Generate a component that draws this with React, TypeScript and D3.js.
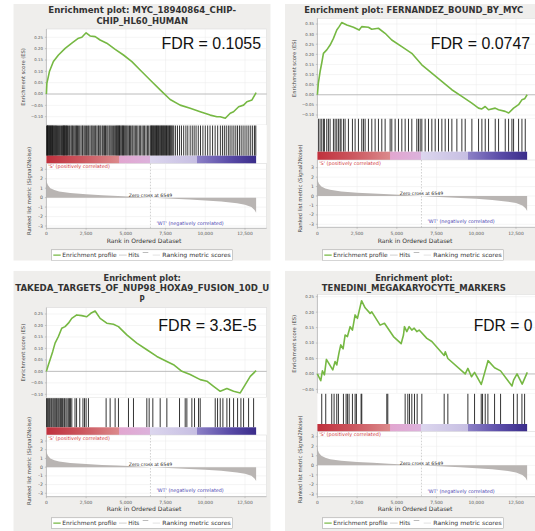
import React from 'react';
import * as d3 from 'd3';

// ---------------- shared data ----------------
const rankTicks = [0, 2500, 5000, 7500, 10000, 12500];
const rankTickLabels = ['0', '2,500', '5,000', '7,500', '10,000', '12,500'];
const datasetSize = 13200;
const zeroCross = 6549;
const metricTicks = [3, 2, 1, 0, -1, -2, -3];

const metricRanks = [0, 30, 100, 250, 500, 800, 1500, 2500, 3500, 4500, 5500, 6549, 7000, 8000, 9000, 10000, 11000, 12000, 12500, 12900, 13100, 13200];
const metricValues = [2.0, 1.6, 1.3, 1.0, 0.8, 0.65, 0.48, 0.35, 0.26, 0.18, 0.1, 0, -0.05, -0.12, -0.2, -0.3, -0.42, -0.6, -0.75, -1.0, -1.3, -1.6];

const colorBarRanks = [0, 2300, 4600, 4601, 6549, 6550, 9500, 9501, 11500, 13200];
const colorBarColors = ['#c0303c', '#cc5860', '#dc8a8c', '#e2a6d0', '#dcb2dc', '#dcd6ee', '#c6bee2', '#8c80c6', '#5a4ca8', '#3a2c8a'];

// ---------------- panel 1 ----------------
const p1Title = ['Enrichment plot: MYC_18940864_CHIP-', 'CHIP_HL60_HUMAN'];
const p1Fdr = 'FDR = 0.1055';
const p1EsTicks = [0.25, 0.2, 0.15, 0.1, 0.05, 0, -0.05, -0.1];
const p1EsRanks = [0, 30, 190, 440, 760, 1180, 1600, 2020, 2230, 2500, 2750, 3070, 3380, 3800, 4330, 4850, 5380, 5900, 6530, 7160, 7790, 8420, 9050, 9680, 10310, 10730, 10940, 11260, 11570, 11780, 12100, 12410, 12620, 12940, 13200];
const p1EsValues = [0, 0.047, 0.099, 0.143, 0.172, 0.201, 0.224, 0.246, 0.25, 0.27, 0.256, 0.253, 0.238, 0.224, 0.197, 0.172, 0.143, 0.106, 0.062, 0.018, -0.024, -0.049, -0.063, -0.078, -0.093, -0.1, -0.1, -0.107, -0.085, -0.078, -0.056, -0.049, -0.034, -0.026, 0.006];
const p1Hits = [20, 45, 60, 85, 110, 150, 180, 210, 260, 290, 330, 360, 390, 430, 470, 520, 560, 600, 640, 700, 760, 830, 880, 950, 1010, 1060, 1090, 1120, 1150, 1210, 1250, 1280, 1330, 1400, 1460, 1540, 1600, 1650, 1720, 1790, 1850, 1900, 1960, 2030, 2100, 2180, 2260, 2300, 2380, 2450, 2520, 2600, 2660, 2740, 2820, 2880, 2950, 3040, 3100, 3180, 3260, 3300, 3370, 3430, 3520, 3580, 3660, 3720, 3800, 3870, 3950, 4010, 4080, 4150, 4230, 4300, 4360, 4420, 4460, 4510, 4550, 4600, 4640, 4700, 4760, 4800, 4850, 4900, 4960, 5020, 5080, 5150, 5230, 5300, 5380, 5440, 5520, 5600, 5680, 5760, 5850, 5930, 6020, 6100, 6180, 6270, 6360, 6440, 6530, 6580, 6620, 6660, 6700, 6750, 6790, 6840, 6880, 6930, 6970, 7010, 7050, 7100, 7150, 7200, 7240, 7290, 7330, 7380, 7420, 7470, 7510, 7560, 7600, 7650, 7700, 7750, 7800, 7850, 7900, 7960, 8020, 8130, 8250, 8380, 8500, 8640, 8780, 8900, 9050, 9180, 9300, 9420, 9560, 9700, 9850, 10000, 10150, 10300, 10460, 10620, 10780, 10950, 11080, 11200, 11320, 11450, 11560, 11680, 11800, 11920, 12030, 12150, 12260, 12380, 12500, 12620, 12740, 12860, 12980, 13100, 13180];

// ---------------- panel 2 ----------------
const p2Title = ['Enrichment plot: FERNANDEZ_BOUND_BY_MYC'];
const p2Fdr = 'FDR = 0.0747';
const p2EsTicks = [0.35, 0.3, 0.25, 0.2, 0.15, 0.1, 0.05, 0, -0.05, -0.1];
const p2EsRanks = [0, 60, 170, 270, 380, 590, 800, 1010, 1220, 1370, 1530, 1850, 2270, 2630, 2790, 3210, 3420, 3840, 4260, 4680, 5310, 5940, 6570, 7200, 7830, 8460, 9090, 9720, 10140, 10350, 10560, 10770, 11190, 11400, 11820, 12040, 12350, 12660, 12870, 13040, 13200];
const p2EsValues = [0, 0.058, 0.115, 0.156, 0.205, 0.222, 0.246, 0.279, 0.32, 0.337, 0.357, 0.345, 0.334, 0.32, 0.337, 0.334, 0.324, 0.329, 0.304, 0.271, 0.238, 0.205, 0.148, 0.107, 0.066, 0.025, -0.008, -0.041, -0.066, -0.07, -0.058, -0.074, -0.066, -0.074, -0.082, -0.09, -0.066, -0.049, -0.025, -0.02, 0.0];
const p2Hits = [63, 168, 273, 378, 441, 588, 693, 798, 1008, 1113, 1218, 1323, 1428, 1491, 1638, 1743, 1953, 2205, 2373, 2583, 2793, 2898, 3003, 3213, 3423, 3633, 3843, 4053, 4263, 4578, 4683, 4893, 5103, 5313, 5523, 5733, 5943, 6258, 6363, 6468, 6573, 6783, 6993, 7203, 7413, 7623, 7833, 8043, 8253, 8463, 8778, 9093, 9303, 9723, 10143, 10353, 10563, 10773, 11193, 11403, 11823, 12033, 12243, 12348, 12663, 12873, 13083];

// ---------------- panel 3 ----------------
const p3Title = ['Enrichment plot:', 'TAKEDA_TARGETS_OF_NUP98_HOXA9_FUSION_10D_U', 'P'];
const p3Fdr = 'FDR = 3.3E-5';
const p3EsTicks = [0.25, 0.2, 0.15, 0.1, 0.05, 0, -0.05, -0.1];
const p3EsRanks = [0, 126, 231, 399, 546, 756, 966, 1176, 1386, 1596, 1911, 2226, 2541, 2793, 3066, 3381, 3801, 4221, 4536, 5061, 5691, 6321, 6951, 7581, 8001, 8526, 9051, 9681, 10101, 10521, 10941, 11361, 11781, 12201, 12516, 12831, 13200];
const p3EsValues = [0, 0.029, 0.051, 0.087, 0.123, 0.152, 0.188, 0.195, 0.21, 0.231, 0.246, 0.243, 0.238, 0.253, 0.263, 0.231, 0.21, 0.205, 0.195, 0.159, 0.123, 0.094, 0.065, 0.043, 0.029, 0, -0.014, -0.036, -0.043, -0.065, -0.087, -0.075, -0.087, -0.094, -0.058, -0.022, 0.003];
const p3Hits = [10, 60, 120, 180, 230, 300, 350, 420, 480, 540, 600, 650, 720, 780, 850, 900, 960, 1020, 1100, 1150, 1230, 1300, 1380, 1450, 1520, 1600, 1800, 1900, 2100, 2300, 2400, 2500, 2646, 3759, 4011, 4326, 4536, 5166, 5481, 6321, 6468, 6699, 7161, 7581, 8379, 8736, 8841, 9156, 9324, 9576, 9681, 10626, 10773, 10941, 11109, 11361, 11529, 11781, 12033, 12243, 12411, 12726, 13041];

// ---------------- panel 4 ----------------
const p4Title = ['Enrichment plot:', 'TENEDINI_MEGAKARYOCYTE_MARKERS'];
const p4Fdr = 'FDR = 0';
const p4EsTicks = [0.25, 0.2, 0.15, 0.1, 0.05, 0, -0.05];
const p4EsRanks = [0, 210, 315, 441, 567, 966, 1113, 1218, 1365, 1470, 1617, 1743, 1890, 2058, 2205, 2373, 2520, 2780, 3003, 3318, 3423, 3948, 4221, 4788, 5270, 5418, 5480, 5628, 5775, 5943, 6090, 6258, 6405, 6888, 7203, 7980, 8050, 8211, 9303, 9471, 9700, 9891, 10310, 10395, 10740, 11151, 11529, 12247, 12348, 12565, 12890, 13210];
const p4EsValues = [0, -0.022, 0.01, -0.003, 0.047, 0.013, 0.04, 0.029, 0.07, 0.094, 0.081, 0.126, 0.121, 0.153, 0.142, 0.191, 0.18, 0.237, 0.214, 0.196, 0.201, 0.158, 0.164, 0.121, 0.098, 0.126, 0.153, 0.137, 0.153, 0.142, 0.148, 0.137, 0.142, 0.115, 0.105, 0.06, 0.072, 0.05, 0.0, 0.018, -0.009, 0.005, -0.034, -0.02, 0.043, 0.02, 0.01, -0.039, -0.02, 0.0, -0.033, 0.005];
const p4Hits = [273, 525, 903, 1050, 1218, 1323, 1638, 1806, 1890, 1995, 2205, 2373, 2457, 2751, 2793, 4368, 4431, 5523, 5691, 5796, 5943, 6111, 6279, 6573, 7980, 8211, 9471, 9891, 10311, 10395, 10563, 10731, 11151, 11529, 12348, 12579, 12873, 13041];

// ---------------- layout (styles only) ----------------
type Layout = {
  bgX: number; bgY: number; bgW: number; bgH: number;
  titleX: number; titleY: number[]; titleW: number[];
  x0: number; xR: number;
  esTop: number; esBot: number; esA: [number, number]; esB: [number, number];
  barTop: number; barBot: number; rkBot: number; rkA: [number, number]; rkB: [number, number];
  xTickY: number; xLabelY: number; legY: number;
  fdrX: number; fdrW: number; fdrY: number;
};

const layouts: Layout[] = [
  { bgX: 13.3, bgY: 4, bgW: 257.4, bgH: 256.7, titleX: 142.2, titleY: [13.2, 24.2], titleW: [187.7, 91.6],
    x0: 46.4, xR: 266.7, esTop: 29, esBot: 125, esA: [0.25, 37.3], esB: [-0.1, 116.7],
    barTop: 155.7, barBot: 163.7, rkBot: 228.3, rkA: [3, 169.3], rkB: [-3, 226],
    xTickY: 235.2, xLabelY: 242.8, legY: 249.8, fdrX: 161.4, fdrW: 99.7, fdrY: 49 },
  { bgX: 285, bgY: 4, bgW: 260, bgH: 256.7, titleX: 413.8, titleY: [13.2], titleW: [219],
    x0: 317.4, xR: 537.7, esTop: 18.3, esBot: 118.3, esA: [0.35, 24], esB: [-0.1, 115],
    barTop: 151.7, barBot: 160, rkBot: 227.3, rkA: [3, 167.7], rkB: [-3, 224.3],
    xTickY: 235.2, xLabelY: 242.8, legY: 249.8, fdrX: 430.7, fdrW: 99.4, fdrY: 49 },
  { bgX: 13.3, bgY: 270.7, bgW: 257.4, bgH: 265, titleX: 142.2, titleY: [280.7, 291.3, 301.5], titleW: [77.3, 254, 5.2],
    x0: 46.4, xR: 266.7, esTop: 307.7, esBot: 397.7, esA: [0.25, 314], esB: [-0.1, 394.3],
    barTop: 427.3, barBot: 435, rkBot: 496.7, rkA: [3, 441], rkB: [-3, 493.3],
    xTickY: 504.2, xLabelY: 511.3, legY: 517.8, fdrX: 158.3, fdrW: 98.4, fdrY: 331 },
  { bgX: 285, bgY: 270.7, bgW: 260, bgH: 265, titleX: 413.8, titleY: [280.7, 291.3], titleW: [77.3, 184],
    x0: 317.4, xR: 537.7, esTop: 294.3, esBot: 393.3, esA: [0.25, 296.7], esB: [-0.05, 389.4],
    barTop: 424, barBot: 431.7, rkBot: 496.7, rkA: [3, 436.7], rkB: [-3, 494],
    xTickY: 504.2, xLabelY: 511.3, legY: 517.8, fdrX: 473.7, fdrW: 58.7, fdrY: 331 },
];

type PanelData = { title: string[]; fdr: string; esTicks: number[]; esRanks: number[]; esValues: number[]; hits: number[] };
const panels: PanelData[] = [
  { title: p1Title, fdr: p1Fdr, esTicks: p1EsTicks, esRanks: p1EsRanks, esValues: p1EsValues, hits: p1Hits },
  { title: p2Title, fdr: p2Fdr, esTicks: p2EsTicks, esRanks: p2EsRanks, esValues: p2EsValues, hits: p2Hits },
  { title: p3Title, fdr: p3Fdr, esTicks: p3EsTicks, esRanks: p3EsRanks, esValues: p3EsValues, hits: p3Hits },
  { title: p4Title, fdr: p4Fdr, esTicks: p4EsTicks, esRanks: p4EsRanks, esValues: p4EsValues, hits: p4Hits },
];

const GREEN = '#76b843';
const FONT = 'DejaVu Sans, sans-serif';

function Panel({ d, L, idx }: { d: PanelData; L: Layout; idx: number }) {
  const pxPerRank = 198.6 / 12500;
  const x = d3.scaleLinear().domain([0, (L.xR - L.x0) / pxPerRank]).range([L.x0, L.xR]);
  const yEs = d3.scaleLinear().domain([L.esB[0], L.esA[0]]).range([L.esB[1], L.esA[1]]);
  const yRk = d3.scaleLinear().domain([L.rkB[0], L.rkA[0]]).range([L.rkB[1], L.rkA[1]]);
  const clipId = `clip${idx}`;

  const esPts = d.esRanks.map((r, i) => [r, d.esValues[i]] as [number, number]);
  const esLine = d3.line<[number, number]>().x((p) => x(p[0])).y((p) => yEs(p[1]))(esPts) || '';
  const mPts = metricRanks.map((r, i) => [r, metricValues[i]] as [number, number]);
  const mArea = d3.area<[number, number]>().x((p) => x(p[0])).y0(yRk(0)).y1((p) => yRk(p[1]))(mPts) || '';
  const fmt = d3.format('.2f');
  const hitTop = L.esBot;
  const legX = L.x0 + 5.3;
  const legMid = L.legY + 5.3;
  const rkLabelY = (L.barTop + L.rkBot) / 2 - 1;

  return (
    <g>
      <defs>
        <clipPath id={clipId}>
          <rect x={L.bgX} y={L.bgY} width={Math.min(L.bgW, 535 - L.bgX)} height={L.bgH} />
        </clipPath>
        <linearGradient id={`cb${idx}`} x1="0" x2="1" y1="0" y2="0">
          {colorBarRanks.map((r, i) => (
            <stop key={i} offset={r / datasetSize} stopColor={colorBarColors[i]} />
          ))}
        </linearGradient>
      </defs>
      <g clipPath={`url(#${clipId})`}>
        <rect x={L.bgX} y={L.bgY} width={L.bgW} height={L.bgH} fill="#efeeec" />
        {d.title.map((t, i) => (
          <text key={i} x={L.titleX} y={L.titleY[i]} textAnchor="middle" fontFamily={FONT} fontWeight="bold"
            fontSize={8.5} fill="#333" textLength={L.titleW[i]} lengthAdjust="spacingAndGlyphs">{t}</text>
        ))}
        {/* ES plot */}
        <rect x={L.x0} y={L.esTop} width={L.xR - L.x0} height={L.esBot - L.esTop} fill="#fff" stroke="#d6d6d6" strokeWidth={0.5} />
        {rankTicks.map((r) => (
          <line key={'gv' + r} x1={x(r)} x2={x(r)} y1={L.esTop} y2={L.esBot} stroke="#ebebeb" strokeWidth={0.5} />
        ))}
        {d.esTicks.map((t) => (
          <g key={'et' + t}>
            <line x1={L.x0} x2={L.xR} y1={yEs(t)} y2={yEs(t)} stroke={t === 0 ? '#b4b4b4' : '#ebebeb'} strokeWidth={t === 0 ? 0.9 : 0.5} />
            <line x1={L.x0 - 1.5} x2={L.x0} y1={yEs(t)} y2={yEs(t)} stroke="#888" strokeWidth={0.4} />
            <text x={L.x0 - 3.5} y={yEs(t) + 1.4} textAnchor="end" fontFamily={FONT} fontSize={3.9} fill="#555">{fmt(t)}</text>
          </g>
        ))}
        <line x1={L.x0} x2={L.x0} y1={L.esTop} y2={L.esBot} stroke="#999" strokeWidth={0.5} />
        <path d={esLine} fill="none" stroke={GREEN} strokeWidth={1.6} strokeLinejoin="round" />
        <text transform={`translate(${L.x0 - 21.5},${(L.esTop + L.esBot) / 2}) rotate(-90)`} textAnchor="middle"
          fontFamily={FONT} fontSize={5.2} fill="#444">Enrichment score (ES)</text>
        <text x={L.fdrX} y={L.fdrY} fontFamily="Liberation Sans, Arial, sans-serif" fontSize={16} fill="#111"
          textLength={L.fdrW} lengthAdjust="spacingAndGlyphs">{d.fdr}</text>

        {/* hits plot */}
        <rect x={L.x0} y={hitTop} width={L.xR - L.x0} height={L.barBot - hitTop} fill="#fff" />
        {d.hits.map((h, i) => (
          <line key={'h' + i} x1={x(h)} x2={x(h)} y1={hitTop + 0.5} y2={L.barTop} stroke="#111" strokeWidth={0.85} />
        ))}
        <rect x={x(0)} y={L.barTop} width={x(datasetSize) - x(0)} height={L.barBot - L.barTop} fill={`url(#cb${idx})`} />

        {/* ranked list plot */}
        <rect x={L.x0} y={L.barBot} width={L.xR - L.x0} height={L.rkBot - L.barBot} fill="#fff" stroke="#d6d6d6" strokeWidth={0.5} />
        {rankTicks.map((r) => (
          <line key={'gr' + r} x1={x(r)} x2={x(r)} y1={L.barBot} y2={L.rkBot} stroke="#ebebeb" strokeWidth={0.5} />
        ))}
        {metricTicks.map((t) => (
          <g key={'mt' + t}>
            <line x1={L.x0} x2={L.xR} y1={yRk(t)} y2={yRk(t)} stroke="#ebebeb" strokeWidth={0.5} />
            <line x1={L.x0 - 1.5} x2={L.x0} y1={yRk(t)} y2={yRk(t)} stroke="#888" strokeWidth={0.4} />
            <text x={L.x0 - 3.5} y={yRk(t) + 1.6} textAnchor="end" fontFamily={FONT} fontSize={4.6} fill="#555">{t}</text>
          </g>
        ))}
        <path d={mArea} fill="#b9b5b3" />
        <line x1={x(zeroCross)} x2={x(zeroCross)} y1={L.barBot} y2={L.rkBot} stroke="#a0a0a0" strokeWidth={0.5} strokeDasharray="1.5,1.5" />
        <text x={L.x0 + 1.8} y={L.barBot + 4.6} fontFamily={FONT} fontSize={4.9} fill="#d23a3a"
          textLength={61.7} lengthAdjust="spacingAndGlyphs">'S' (positively correlated)</text>
        <text x={x(zeroCross) + 6} y={L.rkB[1] - 1.3} fontFamily={FONT} fontSize={4.9} fill="#4a3fb0"
          textLength={67.3} lengthAdjust="spacingAndGlyphs">'WT' (negatively correlated)</text>
        <text x={x(zeroCross)} y={yRk(0) - 0.8} textAnchor="middle" fontFamily={FONT} fontSize={4.6} fill="#222"
          textLength={43.3} lengthAdjust="spacingAndGlyphs">Zero cross at {zeroCross}</text>
        <line x1={L.x0} x2={L.x0} y1={L.barBot} y2={L.rkBot} stroke="#999" strokeWidth={0.5} />
        <line x1={L.x0} x2={L.xR} y1={L.rkBot} y2={L.rkBot} stroke="#999" strokeWidth={0.5} />
        {rankTicks.map((r, i) => (
          <g key={'xt' + r}>
            <line x1={x(r)} x2={x(r)} y1={L.rkBot} y2={L.rkBot + 1.5} stroke="#888" strokeWidth={0.4} />
            <text x={x(r)} y={L.xTickY} textAnchor="middle" fontFamily={FONT} fontSize={4.4} fill="#555">{rankTickLabels[i]}</text>
          </g>
        ))}
        <text transform={`translate(${L.x0 - 15.7},${rkLabelY}) rotate(-90)`} textAnchor="middle"
          fontFamily={FONT} fontSize={5.3} fill="#444">Ranked list metric (Signal2Noise)</text>
        <text x={x(6150)} y={L.xLabelY} textAnchor="middle" fontFamily={FONT} fontSize={6} fill="#333"
          textLength={74.7} lengthAdjust="spacingAndGlyphs">Rank in Ordered Dataset</text>

        {/* legend */}
        <rect x={legX} y={L.legY} width={181} height={10.6} fill="#fff" stroke="#9a9a9a" strokeWidth={0.5} />
        <line x1={legX + 1.6} x2={legX + 9} y1={legMid} y2={legMid} stroke={GREEN} strokeWidth={1.2} />
        <text x={legX + 10.6} y={legMid + 2} fontFamily={FONT} fontSize={5.8} fill="#333"
          textLength={54.4} lengthAdjust="spacingAndGlyphs">Enrichment profile</text>
        <line x1={legX + 67.3} x2={legX + 75} y1={legMid} y2={legMid} stroke="#b0b0b0" strokeWidth={0.6} />
        <text x={legX + 76.6} y={legMid + 2} fontFamily={FONT} fontSize={5.8} fill="#333"
          textLength={11} lengthAdjust="spacingAndGlyphs">Hits</text>
        <line x1={legX + 91} x2={legX + 96.6} y1={legMid - 2.6} y2={legMid - 2.6} stroke="#777" strokeWidth={0.5} />
        <line x1={legX + 101} x2={legX + 108.3} y1={legMid} y2={legMid} stroke="#cfcfcf" strokeWidth={0.6} />
        <text x={legX + 110.6} y={legMid + 2} fontFamily={FONT} fontSize={5.8} fill="#333"
          textLength={68.4} lengthAdjust="spacingAndGlyphs">Ranking metric scores</text>
      </g>
    </g>
  );
}

export default function App() {
  return (
    <svg width={535} height={531} viewBox="0 0 535 531"
      style={{ position: 'absolute', left: 0, top: 0, background: '#fff' }}>
      <rect x={0} y={0} width={535} height={531} fill="#fff" />
      {panels.map((p, i) => (
        <Panel key={i} d={p} L={layouts[i]} idx={i} />
      ))}
    </svg>
  );
}
